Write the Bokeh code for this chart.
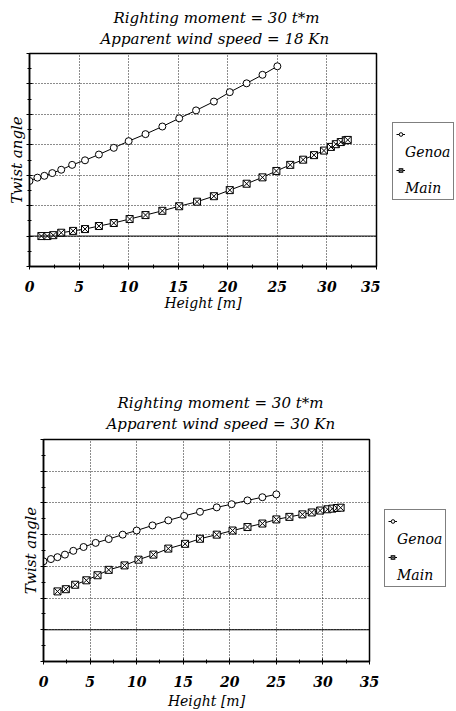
from bokeh.plotting import figure
from bokeh.layouts import column, row
from bokeh.models import FixedTicker, Span, Legend, LegendItem, Title
from bokeh.embed import file_html
from bokeh.resources import INLINE

# ---- data ----
height_ticks = [0, 5, 10, 15, 20, 25, 30, 35]
height_minor = [2.5, 7.5, 12.5, 17.5, 22.5, 27.5, 32.5]
angle_ticks = [-1, 0, 1, 2, 3, 4, 5, 6]
angle_minor = [-0.5, 0.5, 1.5, 2.5, 3.5, 4.5, 5.5]

genoa_x = [0, 0.8, 1.5, 2.3, 3.2, 4.3, 5.6, 7.0, 8.5, 10.0, 11.7, 13.4, 15.1,
           16.8, 18.6, 20.2, 21.9, 23.5, 25.0]
genoa18_y = [1.81, 1.92, 1.98, 2.07, 2.18, 2.34, 2.49, 2.68, 2.90, 3.12, 3.35,
             3.60, 3.87, 4.13, 4.42, 4.73, 5.02, 5.30, 5.58]
main18_x = [1.2, 1.8, 2.4, 3.2, 4.4, 5.6, 7.0, 8.5, 10.1, 11.7, 13.4, 15.1, 16.9,
            18.6, 20.2, 21.9, 23.5, 24.9, 26.3, 27.6, 28.7, 29.7, 30.4, 30.9,
            31.4, 31.9, 32.1]
main18_y = [0.0, 0.0, 0.03, 0.11, 0.17, 0.23, 0.33, 0.43, 0.56, 0.69, 0.83, 0.98,
            1.13, 1.31, 1.51, 1.72, 1.93, 2.14, 2.34, 2.51, 2.66, 2.81, 2.93,
            3.02, 3.09, 3.15, 3.16]

genoa30_y = [2.16, 2.23, 2.29, 2.37, 2.49, 2.61, 2.74, 2.86, 3.00, 3.13, 3.29,
             3.45, 3.59, 3.72, 3.86, 3.96, 4.08, 4.18, 4.27]
main30_x = [1.5, 2.4, 3.4, 4.6, 5.8, 7.0, 8.7, 10.2, 11.8, 13.4, 15.2, 16.8, 18.6,
            20.3, 21.9, 23.5, 25.0, 26.4, 27.8, 28.8, 29.7, 30.5, 31.0, 31.5, 31.9]
main30_y = [1.21, 1.28, 1.42, 1.56, 1.72, 1.89, 2.03, 2.21, 2.37, 2.56, 2.71,
            2.87, 3.00, 3.13, 3.24, 3.35, 3.48, 3.56, 3.64, 3.70, 3.76, 3.80,
            3.82, 3.84, 3.85]

titles18 = ["Righting moment = 30 t*m", "Apparent wind speed = 18 Kn"]
titles30 = ["Righting moment = 30 t*m", "Apparent wind speed = 30 Kn"]
series_names = ["Genoa", "Main"]
x_label = "Height [m]"
y_label = "Twist angle"

SERIF = "DejaVu Serif"
MAIN_W = 380
LEG_W = 456 - MAIN_W

GENOA_STYLE = dict(marker="circle", size=7, fill_color="white", line_color="black", line_width=1)
MAIN_STYLE = dict(marker="square_x", size=7, fill_color="white", line_color="black", line_width=1)


def make_chart(h, frame, titles, title_offsets, title_standoffs, xlabel_standoff,
               gx, gy, mx, my, legend_corner):
    left, right, top, bottom = frame
    p = figure(width=MAIN_W, height=h, output_backend="svg", toolbar_location=None,
               x_range=(0, 35), y_range=(-1, 6),
               min_border_left=left, min_border_right=MAIN_W - right,
               min_border_top=top, min_border_bottom=h - bottom)
    p.outline_line_color = "black"
    p.outline_line_width = 1.5
    p.background_fill_color = "white"
    p.border_fill_color = "white"

    xa = p.xaxis[0]
    xa.ticker = FixedTicker(ticks=height_ticks, minor_ticks=height_minor)
    xa.axis_line_color = "black"
    xa.axis_line_width = 1.5
    xa.major_tick_in = 3
    xa.major_tick_out = 3
    xa.minor_tick_in = 2
    xa.minor_tick_out = 2
    xa.major_tick_line_color = "black"
    xa.minor_tick_line_color = "black"
    xa.major_label_standoff = 11
    xa.major_label_text_font = SERIF
    xa.major_label_text_font_style = "bold italic"
    xa.major_label_text_font_size = "14px"
    xa.major_label_text_color = "black"
    xa.axis_label = x_label
    xa.axis_label_text_font = SERIF
    xa.axis_label_text_font_style = "italic"
    xa.axis_label_text_font_size = "14px"
    xa.axis_label_text_color = "black"
    xa.axis_label_standoff = xlabel_standoff

    ya = p.yaxis[0]
    ya.ticker = FixedTicker(ticks=angle_ticks, minor_ticks=angle_minor)
    ya.axis_line_color = "black"
    ya.axis_line_width = 1.5
    ya.major_tick_in = 3
    ya.major_tick_out = 3
    ya.minor_tick_in = 2
    ya.minor_tick_out = 2
    ya.major_tick_line_color = "black"
    ya.minor_tick_line_color = "black"
    ya.major_label_overrides = {t: "" for t in angle_ticks}
    ya.major_label_standoff = 0

    for g in (p.xgrid[0], p.ygrid[0]):
        g.grid_line_color = "black"
        g.grid_line_dash = "1 2"
        g.grid_line_width = 1
        g.grid_line_alpha = 0.9

    p.add_layout(Span(location=0, dimension="width", line_color="black", line_width=1))

    p.line(gx, gy, line_color="black", line_width=1)
    p.scatter(gx, gy, **GENOA_STYLE)
    p.line(mx, my, line_color="black", line_width=1)
    p.scatter(mx, my, **MAIN_STYLE)

    for text, off, so in reversed(list(zip(titles, title_offsets, title_standoffs))):
        p.add_layout(Title(text=text, align="left", offset=off, text_font=SERIF,
                           text_font_style="italic", text_font_size="15px",
                           text_color="black", standoff=so), "above")

    p.add_layout(Title(text=y_label, align="center", text_font=SERIF,
                       text_font_style="italic", text_font_size="15px",
                       text_color="black", standoff=2), "left")

    # legend lives in a small companion figure (its frame is aligned with the
    # chart's frame by the row); its sample renderers sit outside its empty view
    q = figure(width=LEG_W, height=h, output_backend="svg", toolbar_location=None,
               x_range=(-100, -99), y_range=(-100, -99), min_border=0)
    q.axis.visible = False
    q.grid.visible = False
    q.outline_line_color = None
    q.background_fill_color = "white"
    q.border_fill_color = "white"
    gl = q.line(gx, gy, line_color="black", line_width=1)
    gs = q.scatter(gx, gy, **GENOA_STYLE)
    ml = q.line(mx, my, line_color="black", line_width=1)
    ms = q.scatter(mx, my, **MAIN_STYLE)
    dummy = q.line(x=[], y=[], line_alpha=0)

    lx0, ly1 = legend_corner  # left and bottom edge of the legend box, page px
    legend = Legend(items=[
        LegendItem(label=" ", renderers=[gl, gs]),
        LegendItem(label=series_names[0], renderers=[dummy]),
        LegendItem(label=" ", renderers=[ml, ms]),
        LegendItem(label=series_names[1], renderers=[dummy]),
    ], location=(lx0 - MAIN_W, bottom - ly1))
    legend.border_line_color = "black"
    legend.border_line_width = 1.5
    legend.background_fill_color = "white"
    legend.background_fill_alpha = 1
    legend.margin = 0
    legend.padding = 3
    legend.spacing = 2
    legend.glyph_width = 9
    legend.glyph_height = 12
    legend.label_height = 16
    legend.label_standoff = 0
    legend.label_text_font = SERIF
    legend.label_text_font_style = "italic"
    legend.label_text_font_size = "14px"
    legend.label_text_color = "black"
    q.add_layout(legend, "center")
    return row(p, q, spacing=0)


r1 = make_chart(355, (29, 376, 53, 266), titles18, [84, 71], [-10, 12], 0,
                genoa_x, genoa18_y, main18_x, main18_y, (392, 200))
r2 = make_chart(356, (43, 369, 84, 308), titles30, [74, 63], [-12, 14], 3,
                genoa_x, genoa30_y, main30_x, main30_y, (384, 234))

layout = column(r1, r2, spacing=0)
open("out.html", "w").write(file_html(layout, INLINE))
